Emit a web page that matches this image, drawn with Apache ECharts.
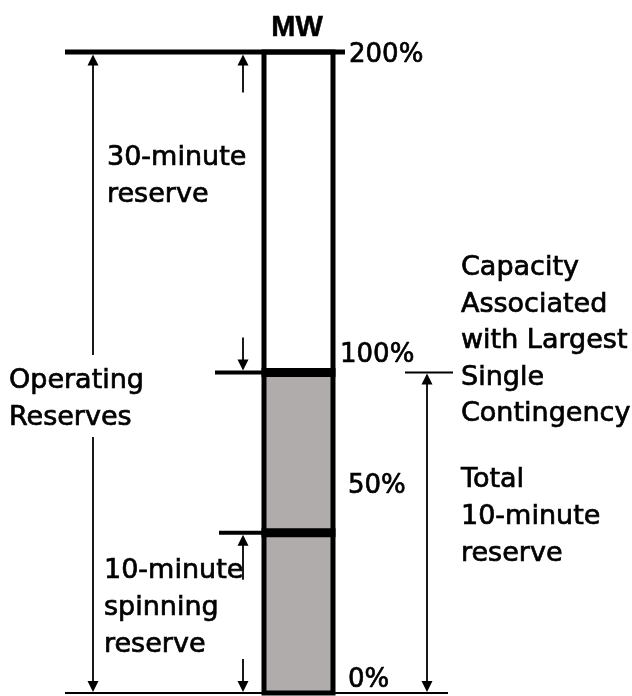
<!DOCTYPE html>
<html><head><meta charset="utf-8">
<script src="https://cdn.jsdelivr.net/npm/echarts@6/dist/echarts.min.js"></script>
<style>html,body{margin:0;padding:0;background:#fff}#c{width:632px;height:696px}</style>
</head><body><div id="c"></div>
<script>
// ---- data ----
const levels = [0, 50, 100, 200];                 // MW, % of largest single contingency
const levelLabels = ['0%', '50%', '100%', '200%'];
const segmentNames = ['10-minute spinning reserve', '10-minute non-spinning reserve', '30-minute reserve'];
const segmentFrom = [0, 50, 100];
const segmentTo = [50, 100, 200];
const spanNames = ['Operating\nReserves', '30-minute\nreserve', '10-minute\nspinning\nreserve', 'Total\n10-minute\nreserve'];
const spanFrom = [0, 100, 0, 0];
const spanTo = [200, 200, 50, 100];
const contingencyLabel = 'Capacity\nAssociated\nwith Largest\nSingle\nContingency';
const unitLabel = 'MW';

// ---- style ----
const FONT = '27px "DejaVu Sans"';
const TICK_FONT = '26px "DejaVu Sans"';
const TXT_STROKE = { stroke: '#000', lineWidth: 0.7 };
const BAR_X0 = 264, BAR_X1 = 333;
const segFill = ['#b0acab', '#b0acab', '#ffffff'];
const levelStyle = [
  { x0: 65, x1: 448, w: 2, lx: 348, ldy: -13 },
  { x0: 219, x1: 264, w: 4, thick: 9, lx: 348, ldy: -47 },
  { x0: 215, x1: 264, w: 4, thick: 9, rx0: 405, rx1: 453, rw: 2, lx: 340, ldy: -17 },
  { x0: 65, x1: 345, w: 5, lx: 349, ldy: 3 }
];
const spanStyle = [
  { x: 93, gap: [355, 437], tipTop: 2.5, tipBot: 1, lx: 9, ly: 362 },
  { x: 243, stubTop: 38, stubBot: 33, tipTop: 2.5, tipBot: 2, lx: 107, ly: 139 },
  { x: 243, stubTop: 45, stubBot: 33, tipTop: 2, tipBot: 1, lx: 104, ly: 552 },
  { x: 427, tipTop: 1, tipBot: 1, lx: 461, ly: 461 }
];

const chart = echarts.init(document.getElementById('c'), null, { renderer: 'canvas' });

function segItem(params, api) {
  const i = params.dataIndex;
  const p0 = api.coord([BAR_X0, api.value(1)]);
  const p1 = api.coord([BAR_X1, api.value(2)]);
  return { type: 'rect', shape: { x: p0[0], y: p1[1], width: p1[0] - p0[0], height: p0[1] - p1[1] },
           style: { fill: segFill[i] } };
}
function outlineItem(params, api) {
  const p0 = api.coord([BAR_X0, api.value(1)]);
  const p1 = api.coord([BAR_X1, api.value(2)]);
  return { type: 'rect', shape: { x: p0[0], y: p1[1], width: p1[0] - p0[0], height: p0[1] - p1[1] },
           style: { fill: 'none', stroke: '#000', lineWidth: 5 } };
}
function levelItem(params, api) {
  const i = params.dataIndex;
  const v = api.value(1);
  const s = levelStyle[i];
  const y = api.coord([0, v])[1];
  const X = x => api.coord([x, v])[0];
  const ch = [];
  ch.push({ type: 'line', shape: { x1: X(s.x0), y1: y, x2: X(s.x1), y2: y }, style: { stroke: '#000', lineWidth: s.w } });
  if (s.thick) ch.push({ type: 'rect', shape: { x: X(BAR_X0) - 2.5, y: y - s.thick / 2, width: X(BAR_X1) - X(BAR_X0) + 5, height: s.thick }, style: { fill: '#000' } });
  if (s.rx0) ch.push({ type: 'line', shape: { x1: X(s.rx0), y1: y, x2: X(s.rx1), y2: y }, style: { stroke: '#000', lineWidth: s.rw } });
  ch.push({ type: 'text', style: Object.assign({ text: levelLabels[i], x: X(s.lx), y: y + s.ldy, font: TICK_FONT, fill: '#000',
            align: 'left', verticalAlign: 'middle', textAlign: 'left', textVerticalAlign: 'middle' }, TXT_STROKE) });
  return { type: 'group', children: ch };
}
function head(x, tipY, dir) { // dir -1 = up, +1 = down
  const h = 11, w = 5.5;
  return { type: 'polygon', shape: { points: [[x, tipY], [x - w, tipY - dir * h], [x + w, tipY - dir * h]] }, style: { fill: '#000' } };
}
function spanItem(params, api) {
  const i = params.dataIndex;
  const s = spanStyle[i];
  const x = api.coord([s.x, 0])[0];
  const yTop = api.coord([s.x, api.value(2)])[1] + s.tipTop;
  const yBot = api.coord([s.x, api.value(1)])[1] - s.tipBot;
  const ls = { stroke: '#000', lineWidth: 1.8 };
  const ch = [];
  if (s.gap) {
    ch.push({ type: 'line', shape: { x1: x, y1: yTop + 5, x2: x, y2: s.gap[0] }, style: ls });
    ch.push({ type: 'line', shape: { x1: x, y1: s.gap[1], x2: x, y2: yBot - 5 }, style: ls });
  } else if (s.stubTop) {
    ch.push({ type: 'line', shape: { x1: x, y1: yTop + 5, x2: x, y2: yTop + s.stubTop }, style: ls });
    ch.push({ type: 'line', shape: { x1: x, y1: yBot - s.stubBot, x2: x, y2: yBot - 5 }, style: ls });
  } else {
    ch.push({ type: 'line', shape: { x1: x, y1: yTop + 5, x2: x, y2: yBot - 5 }, style: ls });
  }
  ch.push(head(x, yTop, -1));
  ch.push(head(x, yBot, 1));
  ch.push({ type: 'text', style: Object.assign({ text: spanNames[i], x: api.coord([s.lx, 0])[0], y: s.ly, font: FONT, fill: '#000',
            lineHeight: 37, align: 'left', verticalAlign: 'top', textAlign: 'left', textVerticalAlign: 'top' }, TXT_STROKE) });
  return { type: 'group', children: ch };
}

chart.setOption({
  animation: false,
  grid: { left: 0, right: 0, top: 52, bottom: 3 },
  xAxis: { type: 'value', min: 0, max: 632, show: false },
  yAxis: { type: 'value', min: 0, max: 200, interval: 50, show: false },
  graphic: [
    { type: 'text', style: { text: unitLabel, x: 297, y: 28, font: 'bold 29px "Liberation Sans"',
      fill: '#000', stroke: '#000', lineWidth: 0.5,
      align: 'center', verticalAlign: 'middle', textAlign: 'center', textVerticalAlign: 'middle' } },
    { type: 'text', style: Object.assign({ text: contingencyLabel, x: 461, y: 250, font: FONT, fill: '#000', lineHeight: 36.5,
      align: 'left', verticalAlign: 'top', textAlign: 'left', textVerticalAlign: 'top' }, TXT_STROKE) }
  ],
  series: [
    { type: 'custom', name: 'segments', silent: true, renderItem: segItem,
      data: segmentFrom.map((f, i) => ({ name: segmentNames[i], value: [0, f, segmentTo[i]] })) },
    { type: 'custom', name: 'outline', silent: true, renderItem: outlineItem,
      data: [{ value: [0, levels[0], levels[levels.length - 1]] }] },
    { type: 'custom', name: 'levels', silent: true, renderItem: levelItem,
      data: levels.map(v => ({ value: [0, v] })) },
    { type: 'custom', name: 'spans', silent: true, renderItem: spanItem,
      data: spanFrom.map((f, i) => ({ value: [0, f, spanTo[i]] })) }
  ]
});
</script></body></html>
